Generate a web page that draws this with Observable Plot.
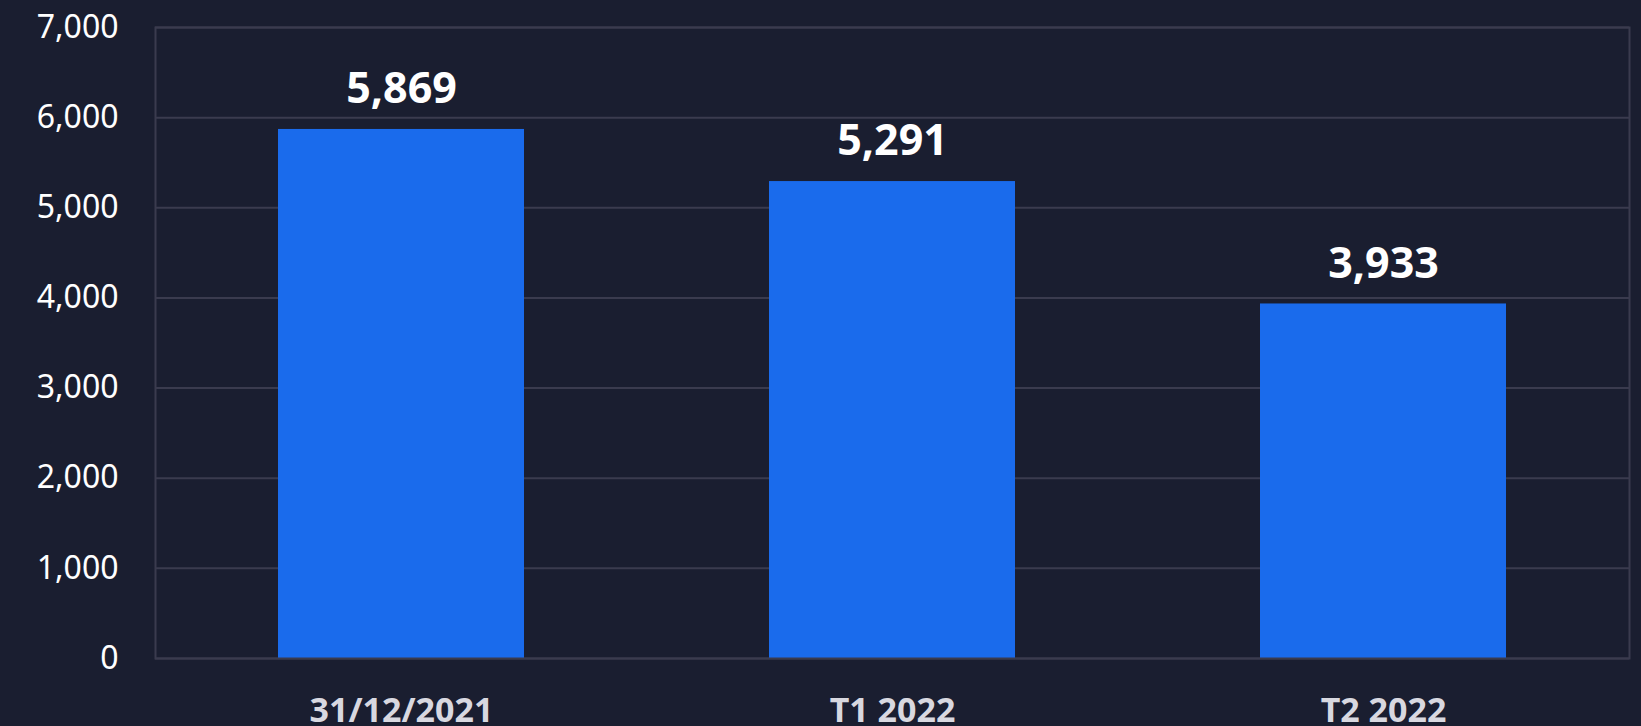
<!DOCTYPE html>
<html>
<head>
<meta charset="utf-8">
<script src="https://cdn.jsdelivr.net/npm/d3@7"></script>
<script src="https://cdn.jsdelivr.net/npm/@observablehq/plot@0.6"></script>
<style>
  html, body { margin: 0; padding: 0; background: #1a1e30; }
  #chart svg { display: block; }
</style>
</head>
<body>
<div id="chart"></div>
<script>
const categories = ["31/12/2021", "T1 2022", "T2 2022"];
const values = [5869, 5291, 3933];
const yTicks = [0, 1000, 2000, 3000, 4000, 5000, 6000, 7000];

const data = categories.map((c, i) => ({category: c, value: values[i]}));
const fmt = d3.format(",");

const chart = Plot.plot({
  width: 1641,
  height: 726,
  marginLeft: 155,
  marginRight: 12,
  marginTop: 27,
  marginBottom: 68,
  style: {background: "#1a1e30", fontFamily: "'Noto Sans', sans-serif"},
  x: {domain: categories, paddingInner: 0.5, paddingOuter: 0.25, label: null},
  y: {domain: [0, 7000], label: null},
  marks: [
    Plot.gridY(yTicks, {stroke: "#3a3b4e", strokeOpacity: 1, strokeWidth: 2}),
    Plot.barY(data, {x: "category", y: "value", fill: "#1a6bec"}),
    Plot.frame({stroke: "#3a3b4e", strokeWidth: 2}),
    Plot.axisY(yTicks, {tickSize: 0, tickPadding: 37, fontSize: 32, color: "#ffffff", tickFormat: fmt, label: null}),
    Plot.axisX({tickSize: 0, tickPadding: 39, fontSize: 34, fontWeight: "bold", color: "#d8d8e0", label: null}),
    Plot.text(data, {x: "category", y: "value", text: d => fmt(d.value), dy: -40, fontSize: 43, fontWeight: "bold", fill: "#ffffff"})
  ]
});
document.getElementById("chart").appendChild(chart);
</script>
</body>
</html>
